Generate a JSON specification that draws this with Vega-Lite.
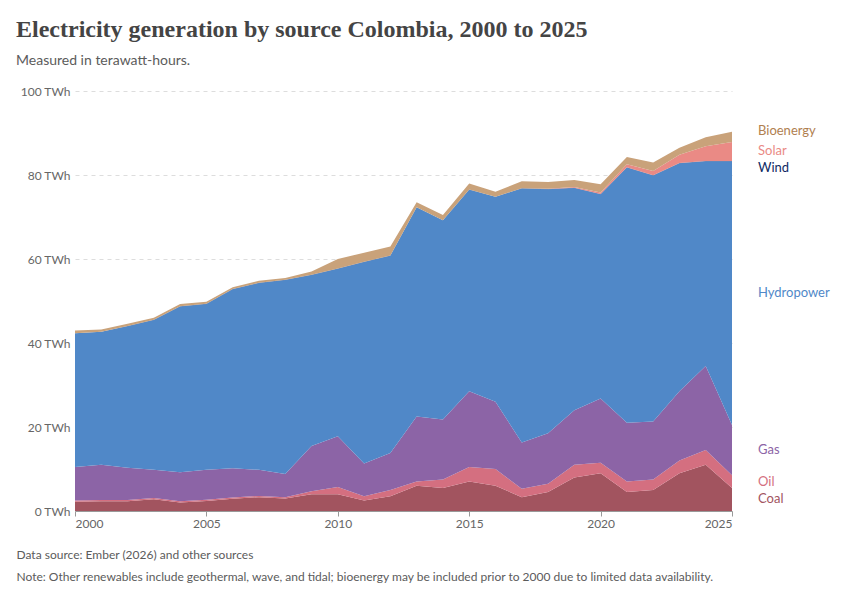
{
  "$schema": "https://vega.github.io/schema/vega-lite/v6.json",
  "autosize": "none",
  "width": 657,
  "height": 420,
  "padding": {"left": 75, "top": 91, "right": 118, "bottom": 89},
  "background": "white",
  "title": {
    "text": "Electricity generation by source  Colombia, 2000 to 2025",
    "subtitle": "Measured in terawatt-hours.",
    "anchor": "start",
    "frame": "group",
    "dx": -59,
    "offset": 17,
    "font": "Liberation Serif",
    "fontSize": 24,
    "fontWeight": "bold",
    "color": "#444444",
    "subtitleFont": "Lato",
    "subtitleFontSize": 14,
    "subtitleColor": "#5b5b5b",
    "subtitlePadding": 12
  },
  "data": {
    "values": [
      {"year": 2000, "Coal": 2.2, "Oil": 0.3, "Gas": 8.0, "Hydropower": 31.8, "Wind": 0, "Solar": 0, "Bioenergy": 0.7},
      {"year": 2001, "Coal": 2.3, "Oil": 0.3, "Gas": 8.4, "Hydropower": 31.7, "Wind": 0, "Solar": 0, "Bioenergy": 0.5},
      {"year": 2002, "Coal": 2.3, "Oil": 0.3, "Gas": 7.7, "Hydropower": 33.7, "Wind": 0.05, "Solar": 0, "Bioenergy": 0.55},
      {"year": 2003, "Coal": 2.8, "Oil": 0.3, "Gas": 6.7, "Hydropower": 35.7, "Wind": 0.05, "Solar": 0, "Bioenergy": 0.45},
      {"year": 2004, "Coal": 2.0, "Oil": 0.3, "Gas": 6.9, "Hydropower": 39.5, "Wind": 0.05, "Solar": 0, "Bioenergy": 0.55},
      {"year": 2005, "Coal": 2.4, "Oil": 0.3, "Gas": 7.1, "Hydropower": 39.5, "Wind": 0.05, "Solar": 0, "Bioenergy": 0.45},
      {"year": 2006, "Coal": 2.9, "Oil": 0.3, "Gas": 7.0, "Hydropower": 42.6, "Wind": 0.05, "Solar": 0, "Bioenergy": 0.45},
      {"year": 2007, "Coal": 3.3, "Oil": 0.3, "Gas": 6.2, "Hydropower": 44.5, "Wind": 0.05, "Solar": 0, "Bioenergy": 0.45},
      {"year": 2008, "Coal": 3.0, "Oil": 0.3, "Gas": 5.5, "Hydropower": 46.2, "Wind": 0.05, "Solar": 0, "Bioenergy": 0.45},
      {"year": 2009, "Coal": 4.0, "Oil": 0.7, "Gas": 10.8, "Hydropower": 40.7, "Wind": 0.05, "Solar": 0, "Bioenergy": 0.75},
      {"year": 2010, "Coal": 4.0, "Oil": 1.7, "Gas": 12.1, "Hydropower": 39.9, "Wind": 0.05, "Solar": 0, "Bioenergy": 2.25},
      {"year": 2011, "Coal": 2.5, "Oil": 1.0, "Gas": 7.8, "Hydropower": 48.0, "Wind": 0.05, "Solar": 0, "Bioenergy": 2.15},
      {"year": 2012, "Coal": 3.5, "Oil": 1.5, "Gas": 8.8, "Hydropower": 47.0, "Wind": 0.05, "Solar": 0, "Bioenergy": 2.15},
      {"year": 2013, "Coal": 6.0, "Oil": 1.0, "Gas": 15.5, "Hydropower": 49.8, "Wind": 0.05, "Solar": 0, "Bioenergy": 1.15},
      {"year": 2014, "Coal": 5.5, "Oil": 2.0, "Gas": 14.3, "Hydropower": 47.4, "Wind": 0.05, "Solar": 0, "Bioenergy": 1.25},
      {"year": 2015, "Coal": 7.0, "Oil": 3.5, "Gas": 18.0, "Hydropower": 48.0, "Wind": 0.05, "Solar": 0, "Bioenergy": 1.45},
      {"year": 2016, "Coal": 6.0, "Oil": 4.0, "Gas": 16.0, "Hydropower": 48.8, "Wind": 0.05, "Solar": 0, "Bioenergy": 1.15},
      {"year": 2017, "Coal": 3.3, "Oil": 2.0, "Gas": 11.0, "Hydropower": 60.5, "Wind": 0.05, "Solar": 0, "Bioenergy": 1.65},
      {"year": 2018, "Coal": 4.5, "Oil": 2.0, "Gas": 12.0, "Hydropower": 58.1, "Wind": 0.05, "Solar": 0.1, "Bioenergy": 1.6},
      {"year": 2019, "Coal": 8.0, "Oil": 3.0, "Gas": 13.0, "Hydropower": 52.9, "Wind": 0.05, "Solar": 0.2, "Bioenergy": 1.65},
      {"year": 2020, "Coal": 9.0, "Oil": 2.5, "Gas": 15.3, "Hydropower": 48.6, "Wind": 0.05, "Solar": 0.4, "Bioenergy": 1.95},
      {"year": 2021, "Coal": 4.5, "Oil": 2.5, "Gas": 14.0, "Hydropower": 60.8, "Wind": 0.05, "Solar": 0.7, "Bioenergy": 1.75},
      {"year": 2022, "Coal": 5.0, "Oil": 2.5, "Gas": 13.8, "Hydropower": 58.6, "Wind": 0.05, "Solar": 1.0, "Bioenergy": 2.05},
      {"year": 2023, "Coal": 9.0, "Oil": 3.0, "Gas": 16.5, "Hydropower": 54.3, "Wind": 0.05, "Solar": 2.0, "Bioenergy": 1.65},
      {"year": 2024, "Coal": 11.0, "Oil": 3.5, "Gas": 20.0, "Hydropower": 48.8, "Wind": 0.05, "Solar": 3.5, "Bioenergy": 2.15},
      {"year": 2025, "Coal": 5.5, "Oil": 3.0, "Gas": 12.0, "Hydropower": 62.8, "Wind": 0.05, "Solar": 4.5, "Bioenergy": 2.45}
    ]
  },
  "transform": [
    {"fold": ["Coal", "Oil", "Gas", "Hydropower", "Wind", "Solar", "Bioenergy"], "as": ["source", "twh"]},
    {"calculate": "indexof(['Coal','Oil','Gas','Hydropower','Wind','Solar','Bioenergy'], datum.source)", "as": "ord"},
    {"stack": "twh", "groupby": ["year"], "sort": [{"field": "ord"}], "as": ["y0", "y1"]},
    {"calculate": "(datum.y0 + datum.y1) / 2", "as": "ymid"}
  ],
  "layer": [
    {
      "mark": {"type": "area", "opacity": 1},
      "encoding": {
        "x": {
          "field": "year", "type": "quantitative",
          "scale": {"domain": [2000, 2025], "nice": false},
          "axis": {
            "values": [2000, 2005, 2010, 2015, 2020, 2025], "format": "d", "grid": false,
            "labelFont": "Lato", "labelFontSize": 12, "labelColor": "#666", "domainColor": "#999", "tickColor": "#999",
            "title": ["Data source: Ember (2026) and other sources", "Note: Other renewables include geothermal, wave, and tidal; bioenergy may be included prior to 2000 due to limited data availability."],
            "titleFont": "Lato", "titleFontSize": 12, "titleFontWeight": "normal", "titleColor": "#5b5b5b",
            "titleAnchor": "start", "titleAlign": "left", "titleX": -59, "titleY": 38, "titleLineHeight": 22
          }
        },
        "y": {
          "field": "y0", "type": "quantitative",
          "scale": {"domain": [0, 100]},
          "axis": {
            "values": [0, 20, 40, 60, 80, 100], "labelExpr": "datum.value + ' TWh'",
            "domain": false, "ticks": false, "gridDash": [4, 4], "gridColor": "#ddd",
            "labelFont": "Lato", "labelFontSize": 12, "labelColor": "#666", "labelPadding": 5, "title": null
          }
        },
        "y2": {"field": "y1"},
        "order": {"field": "ord"},
        "color": {
          "field": "source", "type": "nominal", "legend": null,
          "scale": {
            "domain": ["Coal", "Oil", "Gas", "Hydropower", "Wind", "Solar", "Bioenergy"],
            "range": ["#a2545f", "#d46f80", "#8c64a6", "#5088c8", "#1c3a78", "#ea8a85", "#c9a27a"]
          }
        }
      }
    },
    {
      "transform": [{"filter": "datum.year == 2025 && datum.source != 'Wind' && datum.source != 'Bioenergy'"}],
      "mark": {"type": "text", "align": "left", "dx": 26, "font": "Lato", "fontSize": 13},
      "encoding": {
        "x": {"field": "year", "type": "quantitative"},
        "y": {"field": "ymid", "type": "quantitative"},
        "text": {"field": "source"},
        "color": {"field": "source", "type": "nominal", "scale": {"domain": ["Coal", "Oil", "Gas", "Hydropower", "Wind", "Solar", "Bioenergy"], "range": ["#8a3f4a", "#c9505f", "#7a529a", "#3b72b8", "#0f2a63", "#e06660", "#b08050"]}}
      }
    },
    {
      "transform": [{"filter": "datum.year == 2025 && datum.source == 'Wind'"}],
      "mark": {"type": "text", "align": "left", "dx": 26, "dy": 7, "font": "Lato", "fontSize": 13, "color": "#0f2a63"},
      "encoding": {
        "x": {"field": "year", "type": "quantitative"},
        "y": {"field": "ymid", "type": "quantitative"},
        "text": {"field": "source"}
      }
    },
    {
      "transform": [{"filter": "datum.year == 2025 && datum.source == 'Bioenergy'"}],
      "mark": {"type": "text", "align": "left", "dx": 26, "dy": -6, "font": "Lato", "fontSize": 13, "color": "#b08050"},
      "encoding": {
        "x": {"field": "year", "type": "quantitative"},
        "y": {"field": "ymid", "type": "quantitative"},
        "text": {"field": "source"}
      }
    }
  ],
  "config": {"view": {"stroke": null}}
}
